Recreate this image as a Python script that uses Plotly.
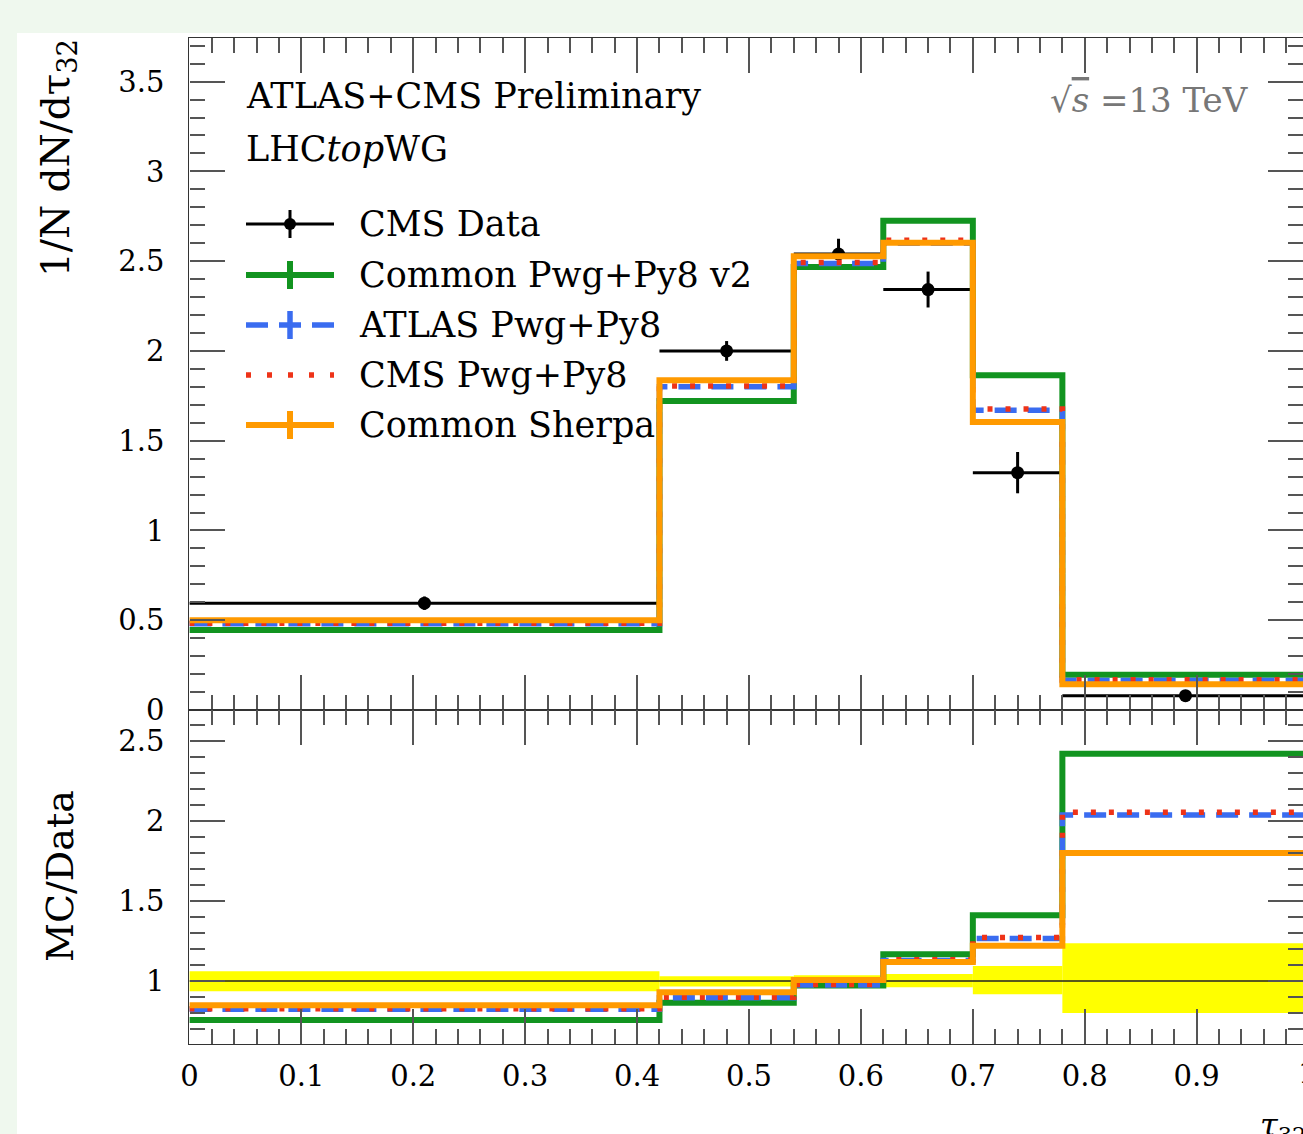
import plotly.graph_objects as go

# ---------------- data ----------------
bin_edges = [0.0, 0.42, 0.54, 0.62, 0.70, 0.78, 1.0]

cms_data = [0.595, 2.00, 2.54, 2.342, 1.322, 0.080]
cms_data_err = [0.037, 0.055, 0.085, 0.100, 0.115, 0.017]

common_pwg_v2 = [0.446, 1.721, 2.468, 2.725, 1.865, 0.197]
atlas_pwg = [0.480, 1.800, 2.487, 2.600, 1.669, 0.165]
cms_pwg = [0.483, 1.805, 2.492, 2.617, 1.677, 0.168]
common_sherpa = [0.500, 1.836, 2.528, 2.602, 1.604, 0.143]

ratio_common_pwg_v2 = [0.756, 0.864, 0.972, 1.167, 1.410, 2.42]
ratio_atlas_pwg = [0.823, 0.895, 0.975, 1.128, 1.265, 2.037]
ratio_cms_pwg = [0.826, 0.898, 0.978, 1.133, 1.272, 2.054]
ratio_common_sherpa = [0.848, 0.929, 1.006, 1.119, 1.220, 1.80]

band_low = [0.935, 0.965, 0.965, 0.960, 0.917, 0.800]
band_high = [1.060, 1.030, 1.035, 1.044, 1.094, 1.235]

legend_labels = ["CMS Data", "Common Pwg+Py8 v2", "ATLAS Pwg+Py8",
                 "CMS Pwg+Py8", "Common Sherpa"]
x_tick_values = [0, 0.1, 0.2, 0.3, 0.4, 0.5, 0.6, 0.7, 0.8, 0.9]

# ---------------- styles ----------------
W, H = 1303, 1134
FONT = "DejaVu Serif"
GREEN = "#129420"
BLUE = "#3a6cf0"
RED = "#ee3318"
ORANGE = "#ff9a00"
YELLOW = "#ffff00"
BG = "#eff8ee"
TICKC = "#555555"


def px(x):
    return x / W


def py(y):
    return 1 - y / H


centers = [(a + b) / 2 for a, b in zip(bin_edges[:-1], bin_edges[1:])]
halfw = [(b - a) / 2 for a, b in zip(bin_edges[:-1], bin_edges[1:])]
widths = [b - a for a, b in zip(bin_edges[:-1], bin_edges[1:])]


def step(vals):
    return list(vals) + [vals[-1]]


fig = go.Figure()

# ---- top panel ----
fig.add_trace(go.Scatter(
    x=centers, y=cms_data, mode="markers", xaxis="x", yaxis="y",
    marker=dict(color="black", size=13),
    error_x=dict(type="data", array=halfw, color="black", thickness=3, width=0),
    error_y=dict(type="data", array=cms_data_err, color="black", thickness=3, width=0),
    showlegend=False))

series = [
    (common_pwg_v2, ratio_common_pwg_v2, dict(color=GREEN, width=6)),
    (atlas_pwg, ratio_atlas_pwg, dict(color=BLUE, width=5.5, dash="22px,11px")),
    (cms_pwg, ratio_cms_pwg, dict(color=RED, width=5.5, dash="5px,13px")),
    (common_sherpa, ratio_common_sherpa, dict(color=ORANGE, width=6)),
]
for top_vals, _, ln in series:
    fig.add_trace(go.Scatter(x=bin_edges, y=step(top_vals), mode="lines",
                             line=dict(shape="hv", **ln), xaxis="x", yaxis="y",
                             showlegend=False))

# ---- ratio panel ----
fig.add_trace(go.Bar(
    x=bin_edges[:-1], width=widths, offset=0, base=band_low,
    y=[h - l for h, l in zip(band_high, band_low)],
    marker=dict(color=YELLOW, line=dict(width=0)),
    xaxis="x2", yaxis="y2", showlegend=False))
fig.add_trace(go.Scatter(x=[bin_edges[0], bin_edges[-1]], y=[1, 1], mode="lines",
                         line=dict(color="#222222", width=1.5),
                         xaxis="x2", yaxis="y2", showlegend=False))
for _, rat, ln in series:
    fig.add_trace(go.Scatter(x=bin_edges, y=step(rat), mode="lines",
                             line=dict(shape="hv", **ln), xaxis="x2", yaxis="y2",
                             showlegend=False))

# ---------------- axes ----------------
common = dict(showline=True, linecolor="#333333", linewidth=1.3, mirror="ticks",
              ticks="inside", ticklen=35, tickwidth=1.5, tickcolor=TICKC,
              showgrid=False, zeroline=False,
              tickfont=dict(family=FONT, size=29, color="black"))
xdom = [px(189.4), 1.0]
xr = [0, 0.995]

fig.update_layout(
    xaxis=dict(domain=xdom, range=xr, anchor="y", tick0=0, dtick=0.1,
               showticklabels=False,
               minor=dict(dtick=0.02, ticklen=15, tickwidth=1.5, tickcolor=TICKC,
                          ticks="inside", showgrid=False), **common),
    xaxis2=dict(domain=xdom, range=xr, anchor="y2", matches="x",
                tickvals=x_tick_values, ticktext=[str(v) for v in x_tick_values],
                ticklabelstandoff=6,
                minor=dict(dtick=0.02, ticklen=15, tickwidth=1.5, tickcolor=TICKC,
                           ticks="inside", showgrid=False), **common),
    yaxis=dict(domain=[py(710), py(38)], range=[0, 3.743], anchor="x",
               tick0=0, dtick=0.5, ticklabelstandoff=18,
               minor=dict(dtick=0.1, ticklen=15, tickwidth=1.5, tickcolor=TICKC,
                          ticks="inside", showgrid=False), **common),
    yaxis2=dict(domain=[py(1044.3), py(710)], range=[0.604, 2.693], anchor="x2",
                tick0=0, dtick=0.5, ticklabelstandoff=18,
                minor=dict(dtick=0.1, ticklen=15, tickwidth=1.5, tickcolor=TICKC,
                           ticks="inside", showgrid=False), **common),
)

# ---------------- page / text ----------------
shapes = [dict(type="rect", xref="paper", yref="paper", x0=px(17), x1=1.0,
               y0=0, y1=py(33), fillcolor="white", line=dict(width=0), layer="below")]
annotations = []


def text(x, y, s, size=35, color="black", xanchor="left", yanchor="middle", angle=0):
    annotations.append(dict(xref="paper", yref="paper", x=px(x), y=py(y), text=s,
                            showarrow=False, xanchor=xanchor, yanchor=yanchor,
                            textangle=angle,
                            font=dict(family=FONT, size=size, color=color)))


text(244, 96, "ATLAS+CMS Preliminary")
text(244, 149, "LHC<i>top</i>WG")
text(1251, 100, "√<span style='text-decoration:overline'><i>s</i></span> =13 TeV",
     size=34, color="#777777", xanchor="right")
text(58, 158, "1/N dN/dτ<sub>32</sub>", size=39, xanchor="center", angle=-90)
text(60, 876, "MC/Data", size=38, xanchor="center", angle=-90)
text(1296, 1073, "1", size=29, xanchor="left")
text(1258, 1104, "<i>τ</i><sub>32</sub>", size=32, yanchor="top")

# legend (drawn by hand)
rows = [224, 275, 325, 375, 425]
styles = [dict(color="black", width=3),
          dict(color=GREEN, width=6),
          dict(color=BLUE, width=5.5, dash="22px,11px"),
          dict(color=RED, width=5.5, dash="5px,16px"),
          dict(color=ORANGE, width=6)]
for i, (lab, yy, st) in enumerate(zip(legend_labels, rows, styles)):
    shapes.append(dict(type="line", xref="paper", yref="paper",
                       x0=px(246), x1=px(334), y0=py(yy), y1=py(yy), line=st))
    if i != 3:
        shapes.append(dict(type="line", xref="paper", yref="paper",
                           x0=px(290), x1=px(290), y0=py(yy - 14), y1=py(yy + 14),
                           line=dict(color=st["color"], width=st["width"])))
    if i == 0:
        shapes.append(dict(type="circle", xref="paper", yref="paper",
                           x0=px(284), x1=px(296), y0=py(yy - 6), y1=py(yy + 6),
                           fillcolor="black", line=dict(width=0)))
    text(357, yy, lab, size=35)

fig.update_layout(
    width=W, height=H,
    margin=dict(l=0, r=0, t=0, b=0, autoexpand=False),
    paper_bgcolor=BG, plot_bgcolor="white",
    barmode="overlay", showlegend=False,
    shapes=shapes, annotations=annotations,
    font=dict(family=FONT, color="black"),
)

fig.write_html("out.html")
